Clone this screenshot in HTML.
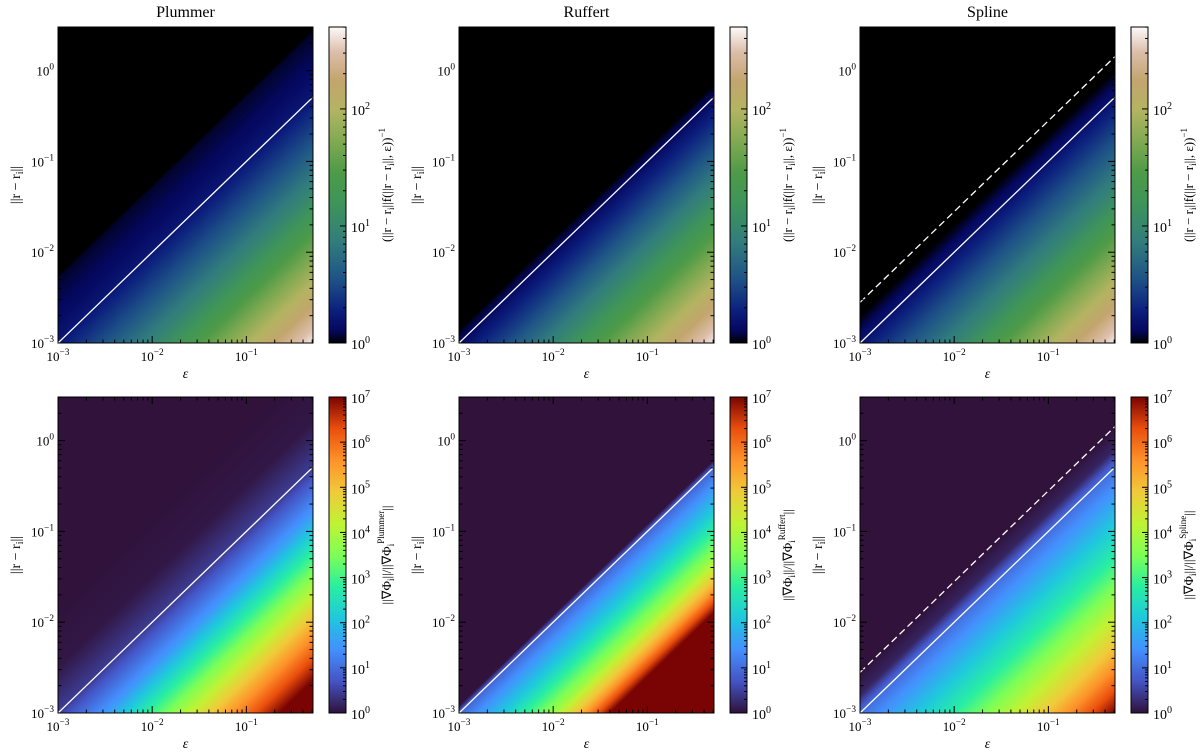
<!DOCTYPE html>
<html><head><meta charset="utf-8">
<style>
html,body{margin:0;padding:0;background:#fff;}
#wrap{position:relative;width:1200px;height:754px;overflow:hidden;font-family:"Liberation Serif",serif;}
canvas{position:absolute;}
svg{position:absolute;left:0;top:0;}
</style></head>
<body>
<div id="wrap">
<svg id="ov" width="1200" height="754"></svg>
</div>
<script>
// ---- data ----
const panelNames = ["Plummer","Ruffert","Spline"];
// top row: q = log10(eps/r) anchors -> log10 value
const topQ_Plummer = [-0.75,-0.7,-0.3,0,0.5,1,2,2.71];
const topV_Plummer = [0,0.05,0.12,0.22,0.55,0.95,1.95,2.65];
const topQ_Ruffert = [-0.15,-0.1,0,0.5,1,2,2.71];
const topV_Ruffert = [0,0.05,0.12,0.5,0.95,1.95,2.65];
const topQ_Spline  = [-0.3,-0.25,0,0.5,1,2,2.71];
const topV_Spline  = [0,0.03,0.18,0.55,0.95,1.95,2.65];
// bottom row
const botQ_Plummer = [-1.2,-0.5,0,0.5,1,1.5,2,2.7];
const botV_Plummer = [0,0.06,0.45,1.5,3.0,4.5,6,8];
const botQ_Ruffert = [-0.08,0,0.5,1,1.3,1.6];
const botV_Ruffert = [0,0.9,2.2,3.8,5.2,7];
const botQ_Spline  = [-0.45,-0.2,0,1,2,2.7];
const botV_Spline  = [0,0.2,1.0,2.8,5,7];
const xTicks = [-3,-2,-1];
const yTicks = [-3,-2,-1,0];
const cbTopTicks = [0,1,2];
const cbBotTicks = [0,1,2,3,4,5,6,7];
const splineFactor = 2.8;

// ---- layout ----
const PL=[58,459,860], PW=255, PH=316, ROWT=[27,397];
const LE0=-3, LE1=Math.log10(0.51), LR0=-3, LR1=-3+316/90.8;
const CB_MAX=[2.7,7];
const earth=[[0,0,0,0],[0.04,5,8,95],[0.1,12,30,125],[0.2,30,82,135],[0.32,50,125,125],[0.44,62,148,90],[0.54,78,155,72],[0.64,130,170,82],[0.74,180,180,98],[0.83,195,165,110],[0.92,220,190,170],[1,253,250,250]];
const turbo=[[0,48,18,59],[0.1,68,84,196],[0.2,68,144,254],[0.3,31,200,222],[0.4,41,239,162],[0.5,126,255,85],[0.6,193,243,52],[0.7,241,202,58],[0.8,254,146,42],[0.9,234,79,13],[1,122,4,3]];
function cmap(m,t){t=Math.max(0,Math.min(1,t));for(let i=1;i<m.length;i++){if(t<=m[i][0]){const a=m[i-1],b=m[i],f=(t-a[0])/(b[0]-a[0]);return [a[1]+f*(b[1]-a[1]),a[2]+f*(b[2]-a[2]),a[3]+f*(b[3]-a[3])];}}return m[m.length-1].slice(1);}
function interp(Q,V,q){if(q<=Q[0])return 0;for(let i=1;i<Q.length;i++){if(q<=Q[i]){return V[i-1]+(q-Q[i-1])/(Q[i]-Q[i-1])*(V[i]-V[i-1]);}}const n=Q.length;return V[n-1]+(q-Q[n-1])*(V[n-1]-V[n-2])/(Q[n-1]-Q[n-2]);}
function xS(c,le){return PL[c]+(le-LE0)/(LE1-LE0)*PW;}
function yS(r,lr){return ROWT[r]+PH-(lr-LR0)/(LR1-LR0)*PH;}
const wrap=document.getElementById('wrap'), ov=document.getElementById('ov');
const NS="http://www.w3.org/2000/svg";
function mk(tag,at,parent){const e=document.createElementNS(NS,tag);for(const k in at)e.setAttribute(k,at[k]);(parent||ov).appendChild(e);return e;}
const tables=[[ [topQ_Plummer,topV_Plummer],[topQ_Ruffert,topV_Ruffert],[topQ_Spline,topV_Spline] ],
              [ [botQ_Plummer,botV_Plummer],[botQ_Ruffert,botV_Ruffert],[botQ_Spline,botV_Spline] ]];
function sup(t,x,y,base,exp,anchor,size){
  const e=mk('text',{x:x,y:y,'font-size':size||13,'text-anchor':anchor||'middle',fill:'#000','font-family':'Liberation Serif, serif'},t);
  e.appendChild(document.createTextNode(base));
  const s=mk('tspan',{dy:-6,'font-size':(size||13)*0.72},e);s.textContent=exp;return e;}
for(let r=0;r<2;r++){for(let c=0;c<3;c++){
  const [Q,V]=tables[r][c], m=r?turbo:earth, vmax=CB_MAX[r];
  const cv=document.createElement('canvas');cv.width=PW;cv.height=PH;cv.style.left=PL[c]+'px';cv.style.top=ROWT[r]+'px';
  
  
  wrap.insertBefore(cv,ov);
  const ctx=cv.getContext('2d'),img=ctx.createImageData(PW,PH);
  for(let py=0;py<PH;py++){const lr=LR1-(py+0.5)/PH*(LR1-LR0);
    for(let px=0;px<PW;px++){const le=LE0+(px+0.5)/PW*(LE1-LE0);
      const v=interp(Q,V,le-lr);const col=cmap(m,v/vmax);const k=(py*PW+px)*4;
      img.data[k]=col[0];img.data[k+1]=col[1];img.data[k+2]=col[2];img.data[k+3]=255;}}
  ctx.putImageData(img,0,0);
  const cbx=PL[c]+271, cbw=17;
  const cb=document.createElement('canvas');cb.width=cbw;cb.height=PH;cb.style.left=cbx+'px';cb.style.top=ROWT[r]+'px';
  
  
  wrap.insertBefore(cb,ov);
  const cc=cb.getContext('2d');for(let py=0;py<PH;py++){const col=cmap(m,1-(py+0.5)/PH);cc.fillStyle='rgb('+col.map(Math.round).join(',')+')';cc.fillRect(0,py,cbw,1);}
  const g=mk('g',{});
  
  
  const clipId='clip'+r+c;const cp=mk('clipPath',{id:clipId},g);mk('rect',{x:PL[c],y:ROWT[r],width:PW,height:PH},cp);
  const ln=mk('line',{x1:xS(c,LE0),y1:yS(r,LE0),x2:xS(c,LE1),y2:yS(r,LE1),stroke:'#fff','stroke-width':1.3,'clip-path':'url(#'+clipId+')'},g);
  
  
  if(c===2){const lf=Math.log10(splineFactor);
    const dl=mk('line',{x1:xS(c,LE0),y1:yS(r,LE0+lf),x2:xS(c,LE1),y2:yS(r,LE1+lf),stroke:'#fff','stroke-width':1.3,'stroke-dasharray':'7,4','clip-path':'url(#'+clipId+')'},g);
    
    }
  mk('rect',{x:PL[c],y:ROWT[r],width:PW,height:PH,fill:'none',stroke:'#000','stroke-width':1},g);
  mk('rect',{x:cbx,y:ROWT[r],width:cbw,height:PH,fill:'none',stroke:'#000','stroke-width':1},g);
  for(let d=-3;d<0;d++)for(let k=1;k<10;k++){const le=d+Math.log10(k);if(le>LE1)break;const x=xS(c,le),L=k===1?7:3.5;
    mk('line',{x1:x,y1:ROWT[r]+PH,x2:x,y2:ROWT[r]+PH-L,stroke:'#000'},g);mk('line',{x1:x,y1:ROWT[r],x2:x,y2:ROWT[r]+L,stroke:'#000'},g);}
  for(let d=-3;d<1;d++)for(let k=1;k<10;k++){const lr=d+Math.log10(k);if(lr>LR1)break;const y=yS(r,lr),L=k===1?7:3.5;
    mk('line',{x1:PL[c],y1:y,x2:PL[c]+L,y2:y,stroke:'#000'},g);mk('line',{x1:PL[c]+PW,y1:y,x2:PL[c]+PW-L,y2:y,stroke:'#000'},g);}
  for(let d=0;d<Math.ceil(vmax);d++)for(let k=1;k<10;k++){const lv=d+Math.log10(k);if(lv>vmax)break;const y=ROWT[r]+PH-lv/vmax*PH,L=k===1?6:3;
    mk('line',{x1:cbx+cbw,y1:y,x2:cbx+cbw-L,y2:y,stroke:'#000'},g);}
  for(const t of xTicks) sup(g,xS(c,t),ROWT[r]+PH+18,'10','−'+(-t),'middle');
  for(const t of yTicks) sup(g,PL[c]-4,yS(r,t)+5,'10',t<0?'−'+(-t):'0','end');
  for(const t of (r?cbBotTicks:cbTopTicks)) sup(g,cbx+cbw+5,ROWT[r]+PH-t/vmax*PH+6,'10',String(t),'start',14);
  const xl=mk('text',{x:PL[c]+PW/2,y:ROWT[r]+PH+35,'font-size':14,'font-style':'italic','text-anchor':'middle'},g);xl.textContent='ε';
  
  
  const yx=PL[c]-38,yy=ROWT[r]+PH/2;
  const yl=mk('text',{x:yx,y:yy,'font-size':14,'text-anchor':'middle',transform:'rotate(-90 '+yx+' '+yy+')'},g);
  yl.textContent='||r − r';const ys=mk('tspan',{dy:3,'font-size':10},yl);ys.textContent='i';const ye=mk('tspan',{dy:-3},yl);ye.textContent='||';
  
  
  const cx=cbx+cbw+45, cy=ROWT[r]+PH/2;
  const cl=mk('text',{x:cx,y:cy,'font-size':13,'text-anchor':'middle',transform:'rotate(-90 '+cx+' '+cy+')'},g);
  if(r===0){cl.textContent='(||r − r';const a=mk('tspan',{dy:3,'font-size':9},cl);a.textContent='i';const b=mk('tspan',{dy:-3},cl);b.textContent='||f(||r − r';
    const a2=mk('tspan',{dy:3,'font-size':9},cl);a2.textContent='i';const b2=mk('tspan',{dy:-3},cl);b2.textContent='||, ε))';const e2=mk('tspan',{dy:-6,'font-size':9},cl);e2.textContent='−1';}
  else{cl.textContent='||∇Φ';const a=mk('tspan',{dy:3,'font-size':9},cl);a.textContent='i';const b=mk('tspan',{dy:-3},cl);b.textContent='||/||∇Φ';
    const a2=mk('tspan',{dy:3,'font-size':9},cl);a2.textContent='i';const e2=mk('tspan',{dy:-10,'font-size':9},cl);e2.textContent=panelNames[c];const b2=mk('tspan',{dy:7},cl);b2.textContent='||';}
  
  
  if(r===0){const tt=mk('text',{x:PL[c]+PW/2,y:17,'font-size':16,'text-anchor':'middle'},g);tt.textContent=panelNames[c];
    
    }
}}
</script>
</body></html>
